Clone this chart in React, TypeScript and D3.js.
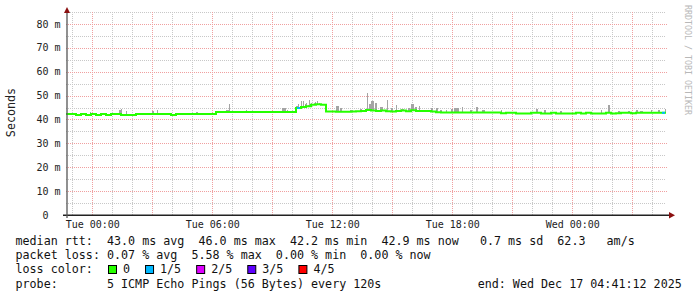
import React from 'react';
import * as d3 from 'd3';

// ---------- data ----------
const END_TIME = new Date(2025, 11, 17, 4, 41, 12);
const SPAN_HOURS = 30;
const STEP_MIN = 15;

// median RTT (ms) per 15-minute step, starting at END_TIME - 30h
const medianMs = [
  42.3, 42.3, 41.9, 42.3, 41.9, 42.3, 41.9, 42.3, 41.9, 42.3,
  42.3, 41.9, 41.9, 41.9, 42.3, 42.3, 42.3, 42.3, 42.3, 42.3,
  42.3, 41.9, 42.3, 42.3, 42.3, 42.3, 42.3, 42.3, 42.3, 42.3,
  43.1, 43.1, 43.1, 43.1, 43.1, 43.1, 43.1, 43.1, 43.1, 43.1,
  43.1, 43.1, 43.1, 43.1, 43.1, 43.1, 44.8, 45.2, 45.6, 46.2,
  46.4, 46.2, 43.4, 43.4, 43.2, 43.2, 43.2, 43.4, 43.5, 43.6,
  44.0, 43.8, 43.6, 43.8, 43.5, 43.3, 43.6, 43.8, 43.5, 43.9,
  43.6, 43.6, 43.6, 43.3, 43.0, 42.9, 42.9, 42.9, 42.9, 42.9,
  42.9, 42.9, 42.9, 42.9, 42.9, 42.9, 42.9, 42.6, 42.8, 42.8,
  42.5, 42.5, 42.5, 42.8, 42.8, 42.5, 42.5, 42.8, 42.5, 42.5,
  42.5, 42.5, 42.8, 42.5, 42.8, 42.5, 42.5, 42.5, 42.8, 42.5,
  42.6, 42.8, 42.8, 42.6, 42.8, 42.8, 42.8, 42.8, 42.8, 42.8,
];

// steps with packet loss (lost pings out of 5)
const lossSteps = [
  { step: 46, lost: 1 },
  { step: 119, lost: 1 },
];

// smoke spikes: [minutes from start, top ms, duration minutes]
const smokeSpikes: [number, number, number][] = [
  [72, 43.3, 3], [159, 44.0, 6], [165, 44.2, 3], [180, 43.6, 3], [258, 43.6, 6],
  [273, 44.1, 3], [390, 43.1, 6], [480, 44.0, 9], [489, 46.5, 3], [522, 43.6, 3],
  [540, 44.0, 3], [648, 44.7, 12], [663, 43.8, 3], [690, 45.5, 6], [696, 46.5, 3],
  [705, 47.7, 3], [711, 47.9, 3], [717, 46.4, 3], [720, 46.9, 3], [726, 46.0, 3],
  [729, 48.0, 3], [735, 47.0, 3], [738, 46.5, 3], [744, 46.8, 3], [747, 47.3, 3],
  [753, 47.6, 3], [759, 46.9, 3], [762, 46.5, 3], [771, 46.1, 3], [810, 45.8, 9],
  [822, 44.8, 6], [852, 44.0, 9], [882, 44.4, 6], [903, 51.1, 3], [909, 46.5, 6],
  [915, 47.7, 9], [927, 46.9, 6], [942, 45.2, 9], [963, 48.3, 3], [975, 44.8, 6],
  [990, 46.2, 3], [1005, 44.4, 9], [1026, 44.8, 6], [1035, 46.6, 9], [1047, 45.2, 6],
  [1059, 45.5, 3], [1095, 44.7, 6], [1110, 44.9, 6], [1122, 44.0, 6], [1140, 44.0, 3],
  [1155, 44.3, 6], [1164, 44.7, 9], [1173, 44.7, 6], [1188, 45.4, 3], [1212, 44.0, 6],
  [1230, 45.4, 6], [1248, 43.8, 9], [1305, 44.0, 3], [1410, 44.4, 6], [1434, 44.0, 6],
  [1482, 43.6, 6], [1605, 44.0, 3], [1626, 46.1, 6], [1656, 43.7, 6], [1686, 43.6, 6],
  [1710, 44.0, 6], [1722, 43.6, 9], [1755, 43.8, 3], [1776, 44.0, 6], [1797, 44.4, 3],
];

const yMajorTicks = [10, 20, 30, 40, 50, 60, 70, 80];
const yMinorTicks = [5, 15, 25, 35, 45, 55, 65, 75, 85];
const yLabelTicks = [0, 10, 20, 30, 40, 50, 60, 70, 80];

const lossLegend = [
  { label: '0', color: '#26ff00' },
  { label: '1/5', color: '#00b8ff' },
  { label: '2/5', color: '#dd00ff' },
  { label: '3/5', color: '#5e00ff' },
  { label: '4/5', color: '#ff0000' },
];

const rttLine = 'median rtt:  43.0 ms avg  46.0 ms max  42.2 ms min  42.9 ms now   0.7 ms sd  62.3   am/s';
const lossLine = 'packet loss: 0.07 % avg  5.58 % max  0.00 % min  0.00 % now';
const colorLabel = 'loss color:';
const probeLine = 'probe:       5 ICMP Echo Pings (56 Bytes) every 120s';
const endLine = 'end: Wed Dec 17 04:41:12 2025';
const yTitle = 'Seconds';
const watermark = 'RRDTOOL / TOBI OETIKER';

// ---------- layout ----------
const W = 697;
const H = 297;
const PLOT_L = 66;
const PLOT_R = 666;
const Y0 = 215;
const PX_PER_MS = 2.3875;
const MONO = '"DejaVu Sans Mono", monospace';
const CHAR_W = 7.04;

export default function App() {
  const start = new Date(END_TIME.getTime() - SPAN_HOURS * 3600 * 1000);
  const x = d3.scaleTime().domain([start, END_TIME]).range([PLOT_L, PLOT_R]);
  const y = d3.scaleLinear().domain([0, 85]).range([Y0, Y0 - 85 * PX_PER_MS]);
  const plotTop = y(85);
  const tAt = (min: number) => new Date(start.getTime() + min * 60000);

  const minorHours = d3.timeHour.every(1)!.range(start, END_TIME);
  const majorHours = d3.timeHour.every(3)!.range(start, END_TIME);
  const labelHours = d3.timeHour.every(6)!.range(start, END_TIME);
  const fmt = d3.timeFormat('%a %H:%M');

  const pts: [Date, number][] = medianMs.map((v, i) => [tAt(i * STEP_MIN), v]);
  pts.push([END_TIME, medianMs[medianMs.length - 1]]);
  const line = d3
    .line<[Date, number]>()
    .x((d) => x(d[0]))
    .y((d) => y(d[1]))
    .curve(d3.curveStepAfter);

  const medianAt = (min: number) =>
    medianMs[Math.min(medianMs.length - 1, Math.floor(min / STEP_MIN))];

  // legend positions
  let cx = 108;
  const legendItems = lossLegend.map((l) => {
    const item = { ...l, bx: cx, tx: cx + 15 };
    cx = cx + 15 + l.label.length * CHAR_W + 15;
    return item;
  });

  return (
    <svg
      width={W}
      height={H}
      style={{ position: 'absolute', left: 0, top: 0, background: '#fff' }}
      xmlns="http://www.w3.org/2000/svg"
    >
      <rect x={0} y={0} width={W} height={H} fill="#fff" />
      {/* minor grid */}
      <g stroke="#c8c8c8" strokeWidth={1} strokeDasharray="1,1" shapeRendering="crispEdges">
        {minorHours.map((h, i) => (
          <line key={'vm' + i} x1={Math.round(x(h)) + 0.5} x2={Math.round(x(h)) + 0.5} y1={plotTop} y2={Y0} />
        ))}
        {yMinorTicks.map((v) => (
          <line key={'hm' + v} x1={PLOT_L} x2={PLOT_R} y1={Math.round(y(v)) + 0.5} y2={Math.round(y(v)) + 0.5} />
        ))}
      </g>
      {/* major grid */}
      <g stroke="#f0a0a0" strokeWidth={1} strokeDasharray="1,1" shapeRendering="crispEdges">
        {majorHours.map((h, i) => (
          <line key={'vM' + i} x1={Math.round(x(h)) + 0.5} x2={Math.round(x(h)) + 0.5} y1={plotTop} y2={Y0} />
        ))}
        {yMajorTicks.map((v) => (
          <line key={'hM' + v} x1={PLOT_L} x2={PLOT_R + 2} y1={Math.round(y(v)) + 0.5} y2={Math.round(y(v)) + 0.5} />
        ))}
      </g>
      {/* smoke */}
      <g fill="#a4a4a4" shapeRendering="crispEdges">
        {smokeSpikes.map(([m, top, dur], i) => {
          const x1 = x(tAt(m));
          const x2 = x(tAt(m + dur));
          const yb = y(medianAt(m));
          const yt = y(top);
          return <rect key={'s' + i} x={x1} y={yt} width={Math.max(1, x2 - x1)} height={Math.max(0, yb - yt)} />;
        })}
      </g>
      {/* median line */}
      <path d={line(pts) ?? ''} fill="none" stroke={lossLegend[0].color} strokeWidth={2} />
      {lossSteps.map((l, i) => {
        const v = medianMs[l.step];
        const x1 = x(tAt(l.step * STEP_MIN));
        const x2 = x(tAt((l.step + 1) * STEP_MIN));
        return (
          <line key={'l' + i} x1={x1 + 1} x2={x1 + Math.min(4, x2 - x1)} y1={y(v)} y2={y(v)} stroke={lossLegend[l.lost].color} strokeWidth={2} />
        );
      })}
      {/* axes */}
      <line x1={63} x2={670} y1={Y0 + 0.25} y2={Y0 + 0.25} stroke="#222" strokeWidth={1.5} />
      <line x1={PLOT_L + 1} x2={PLOT_L + 1} y1={Y0 + 3} y2={11} stroke="#555" strokeWidth={1.3} />
      <path d={`M${PLOT_L - 2},${13} L${PLOT_L + 1},${7} L${PLOT_L + 4},${13} Z`} fill="#8b1010" />
      <path d={`M${669},${212} L${675},${Y0 + 0.25} L${669},${218.5} Z`} fill="#8b1010" />
      {/* y labels */}
      <g fontFamily={MONO} fontSize={10} fill="#222" textAnchor="end">
        {yLabelTicks.map((v) => (
          <text key={'yl' + v} x={v === 0 ? 60.5 - 2 * 6.02 : 60.5} y={y(v) + 3.6}>
            {v === 0 ? '0' : `${v} m`}
          </text>
        ))}
      </g>
      {/* x labels */}
      <g fontFamily={MONO} fontSize={10} fill="#222" textAnchor="middle">
        {labelHours.map((h, i) => (
          <text key={'xl' + i} x={x(h) + 0.5} y={228.3}>
            {fmt(h)}
          </text>
        ))}
      </g>
      {/* y title */}
      <text
        transform="translate(15,112.5) rotate(-90)"
        fontFamily={MONO}
        fontSize={11.7}
        fill="#222"
        textAnchor="middle"
      >
        {yTitle}
      </text>
      {/* watermark */}
      <text
        transform="translate(684.5,5) rotate(90)"
        fontFamily={MONO}
        fontSize={8.3}
        fill="#b8b8b8"
      >
        {watermark}
      </text>
      {/* legend */}
      <g fontFamily={MONO} fontSize={11.7} fill="#111" style={{ whiteSpace: 'pre' }}>
        <text x={15.5} y={244.6} xmlSpace="preserve">{rttLine}</text>
        <text x={15.5} y={258.9} xmlSpace="preserve">{lossLine}</text>
        <text x={15.5} y={273.2} xmlSpace="preserve">{colorLabel}</text>
        {legendItems.map((l) => (
          <g key={l.label}>
            <rect x={l.bx + 0.5} y={265.5} width={8} height={8} fill={l.color} stroke="#000" strokeWidth={1} />
            <text x={l.tx} y={273.2}>{l.label}</text>
          </g>
        ))}
        <text x={15.5} y={287.5} xmlSpace="preserve">{probeLine}</text>
        <text x={477.7} y={287.5}>{endLine}</text>
      </g>
    </svg>
  );
}
